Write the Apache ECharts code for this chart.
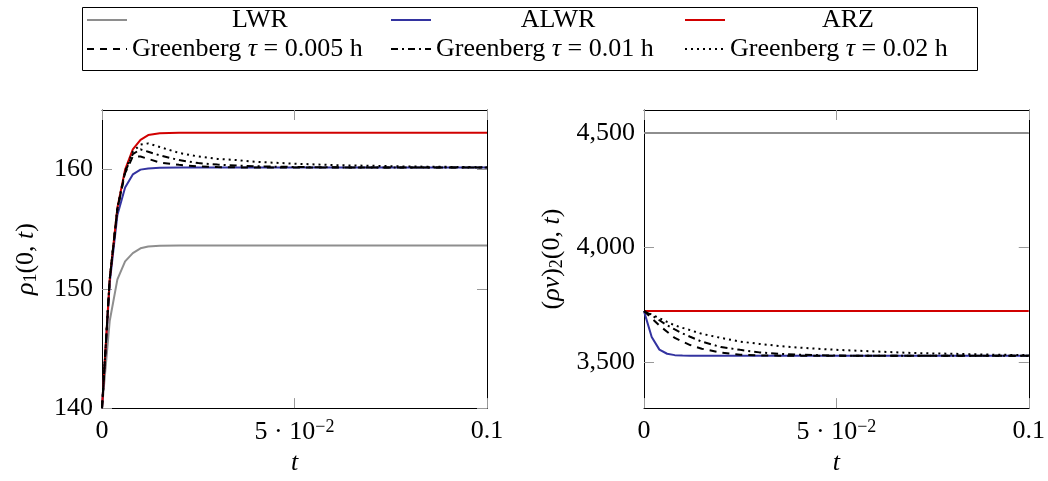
<!DOCTYPE html>
<html>
<head>
<meta charset="utf-8">
<script src="https://cdn.jsdelivr.net/npm/echarts@6/dist/echarts.min.js"></script>
<style>
  html, body { margin: 0; padding: 0; background: #fff; }
  #chart { width: 1048px; height: 481px; }
</style>
</head>
<body>
<div id="chart"></div>
<script>
// time samples (h)
var t = [0, 0.002, 0.004, 0.006, 0.008, 0.01, 0.012, 0.015, 0.02, 0.025, 0.03, 0.035, 0.04, 0.05, 0.06, 0.07, 0.08, 0.09, 0.1];

// left panel: rho_1(0,t)
var rhoLWR  = [140, 147.3, 150.8, 152.3, 153.0, 153.4, 153.55, 153.62, 153.64, 153.64, 153.64, 153.64, 153.64, 153.64, 153.64, 153.64, 153.64, 153.64, 153.64];
var rhoALWR = [140, 150.5, 156.2, 158.5, 159.6, 160.0, 160.1, 160.15, 160.17, 160.17, 160.17, 160.17, 160.17, 160.17, 160.17, 160.17, 160.17, 160.17, 160.17];
var rhoARZ  = [140, 150.8, 156.8, 160.0, 161.7, 162.5, 162.9, 163.05, 163.1, 163.1, 163.1, 163.1, 163.1, 163.1, 163.1, 163.1, 163.1, 163.1, 163.1];
var rhoG005 = [140, 150.8, 156.7, 159.7, 161.1, 161.1, 160.9, 160.6, 160.4, 160.27, 160.21, 160.19, 160.18, 160.17, 160.17, 160.17, 160.17, 160.17, 160.17];
var rhoG01  = [140, 150.8, 156.7, 159.8, 161.3, 161.7, 161.5, 161.2, 160.8, 160.55, 160.42, 160.34, 160.28, 160.22, 160.19, 160.18, 160.17, 160.17, 160.17];
var rhoG02  = [140, 150.8, 156.8, 159.9, 161.5, 162.1, 162.2, 161.9, 161.4, 161.1, 160.9, 160.8, 160.65, 160.5, 160.38, 160.32, 160.26, 160.23, 160.2];

// right panel: (rho v)_2(0,t)
var qLWR  = [4500, 4500, 4500, 4500, 4500, 4500, 4500, 4500, 4500, 4500, 4500, 4500, 4500, 4500, 4500, 4500, 4500, 4500, 4500];
var qALWR = [3723, 3610, 3555, 3537, 3531, 3529, 3528.5, 3528, 3528, 3528, 3528, 3528, 3528, 3528, 3528, 3528, 3528, 3528, 3528];
var qARZ  = [3723, 3723, 3723, 3723, 3723, 3723, 3723, 3723, 3723, 3723, 3723, 3723, 3723, 3723, 3723, 3723, 3723, 3723, 3723];
var qG005 = [3723, 3692, 3660, 3633, 3606, 3590, 3575, 3559, 3542, 3533, 3530, 3528.5, 3528, 3528, 3528, 3528, 3528, 3528, 3528];
var qG01  = [3723, 3705, 3683, 3661, 3643, 3626, 3611, 3590, 3566, 3554, 3543, 3537, 3533, 3529, 3528, 3528, 3528, 3528, 3528];
var qG02  = [3723, 3708, 3692, 3676, 3661, 3650, 3640, 3624, 3606, 3590, 3580, 3571, 3564, 3554, 3547, 3540, 3537, 3533, 3531];

var names = ['LWR', 'ALWR', 'ARZ',
  'Greenberg τ = 0.005 h', 'Greenberg τ = 0.01 h', 'Greenberg τ = 0.02 h'];
var xTicks = [0, 0.05, 0.1];
var rhoTicks = [140, 150, 160];
var qTicks = [3500, 4000, 4500];

var FONT = 'Liberation Serif';
var GRAY = '#8e8e8e', BLUE = '#3333a0', RED = '#d10000', BLACK = '#000';

var styles = [
  { color: GRAY, type: 'solid' },
  { color: BLUE, type: 'solid' },
  { color: RED, type: 'solid' },
  { color: BLACK, type: [7, 6] },
  { color: BLACK, type: [7, 4, 2, 4] },
  { color: BLACK, type: [2, 4] }
];

function zip(xs, ys) {
  return xs.map(function (x, i) { return [x, ys[i]]; });
}

var rich = {
  i: { fontFamily: FONT, fontStyle: 'italic', fontSize: 26, color: '#000' },
  s: { fontFamily: FONT, fontSize: 18, color: '#000', verticalAlign: 'bottom', padding: [10, 0, 0, 0] },
  sup: { fontFamily: FONT, fontSize: 18, color: '#000', verticalAlign: 'top', padding: [0, 0, 10, 0] },
  c1: { fontFamily: FONT, fontSize: 26, color: '#000', width: 256, align: 'center' },
  c2: { fontFamily: FONT, fontSize: 26, color: '#000', width: 244, align: 'center' },
  c3: { fontFamily: FONT, fontSize: 26, color: '#000', width: 236, align: 'center' }
};

function xLabel(v) {
  if (Math.abs(v) < 1e-9) return '0';
  if (Math.abs(v - 0.05) < 1e-9) return '5 · 10{sup|−2}';
  if (Math.abs(v - 0.1) < 1e-9) return '0.1';
  return '';
}

function makeX(gridIndex, top) {
  return {
    type: 'value', gridIndex: gridIndex, position: top ? 'top' : 'bottom',
    min: 0, max: 0.1,
    name: top ? '' : '{i|t}', nameLocation: 'middle', nameGap: 38,
    nameTextStyle: { rich: rich },
    axisLine: { show: true, onZero: false, lineStyle: { color: '#000', width: 1 } },
    axisTick: { show: true, inside: true, length: 10, customValues: xTicks, lineStyle: { color: '#999' } },
    axisLabel: { show: !top, customValues: xTicks, formatter: xLabel, margin: 10,
      fontFamily: FONT, fontSize: 26, color: '#000', rich: rich },
    splitLine: { show: false }
  };
}

function makeY(gridIndex, right, min, max, ticks, fmt, name, gap) {
  return {
    type: 'value', gridIndex: gridIndex, position: right ? 'right' : 'left',
    min: min, max: max,
    name: right ? '' : name, nameLocation: 'middle', nameGap: gap, nameRotate: 90,
    nameTextStyle: { fontFamily: FONT, fontSize: 26, color: '#000', rich: rich },
    axisLine: { show: true, onZero: false, lineStyle: { color: '#000', width: 1 } },
    axisTick: { show: true, inside: true, length: 10, customValues: ticks, lineStyle: { color: '#999' } },
    axisLabel: { show: !right, customValues: ticks, formatter: fmt, margin: 9,
      fontFamily: FONT, fontSize: 26, color: '#000' },
    splitLine: { show: false }
  };
}

var leftData = [rhoLWR, rhoALWR, rhoARZ, rhoG005, rhoG01, rhoG02];
var rightData = [qLWR, qALWR, qARZ, qG005, qG01, qG02];

var series = [];
[leftData, rightData].forEach(function (set, g) {
  set.forEach(function (ys, k) {
    series.push({
      name: names[k], type: 'line', xAxisIndex: g * 2, yAxisIndex: g * 2,
      data: zip(t, ys), symbol: 'none', showSymbol: false, smooth: false,
      lineStyle: { color: styles[k].color, type: styles[k].type, width: 2 },
      itemStyle: { color: styles[k].color },
      z: 3 + k
    });
  });
});

// legend: three columns, two rows
var colX = [86, 390, 684];
var legends = names.map(function (n, k) {
  var row = k < 3 ? 0 : 1, col = k % 3;
  return {
    data: [n], left: colX[col], top: row === 0 ? 7 : 36,
    padding: 0, itemWidth: 40, itemHeight: 14, itemGap: 0,
    selectedMode: false,
    itemStyle: { opacity: 0 },
    lineStyle: { width: 2 },
    textStyle: { fontFamily: FONT, fontSize: 26, color: '#000', rich: rich },
    formatter: function (name) {
      if (row === 0) return '{c' + (col + 1) + '|' + name + '}';
      return name.replace('τ', '{i|τ}');
    }
  };
});

var chart = echarts.init(document.getElementById('chart'), null, { renderer: 'canvas' });
chart.setOption({
  animation: false,
  backgroundColor: '#fff',
  legend: legends,
  graphic: [{
    type: 'rect', left: 80, top: 5, silent: true,
    shape: { width: 895, height: 63 },
    style: { fill: 'none', stroke: '#000', lineWidth: 1 }
  }],
  grid: [
    { left: 102, top: 110, width: 385, height: 303 },
    { left: 644, top: 110, width: 385, height: 303 }
  ],
  xAxis: [makeX(0, false), makeX(0, true), makeX(1, false), makeX(1, true)],
  yAxis: [
    makeY(0, false, 140, 165, rhoTicks, function (v) { return String(v); }, '{i|ρ}{s|1}(0, {i|t})', 62),
    makeY(0, true, 140, 165, rhoTicks, null, '', 0),
    makeY(1, false, 3300, 4600, qTicks, function (v) { return v.toLocaleString('en-US'); }, '({i|ρv}){s|2}(0, {i|t})', 78),
    makeY(1, true, 3300, 4600, qTicks, null, '', 0)
  ],
  series: series
});
</script>
</body>
</html>
